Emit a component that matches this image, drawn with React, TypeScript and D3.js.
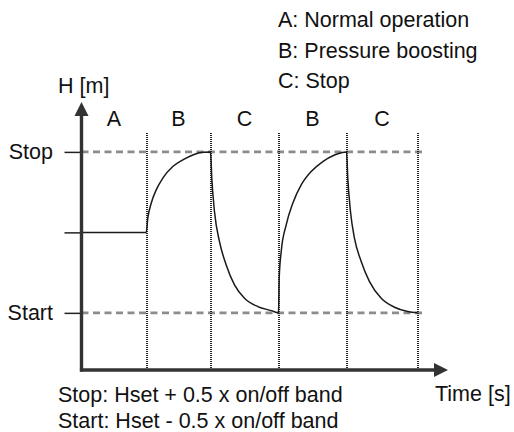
import { useEffect, useRef } from 'react';
import * as d3 from 'd3';

// phase boundaries on the time axis (s) and the phase letters
const phaseEdges = [0, 6.5, 12.9, 19.7, 26.5, 33.6];
const phaseLabels = ["A", "B", "C", "B", "C"];

// head levels (Start = 0, Stop = 1 on/off band)
const levelValues = [1, 0.5, 0];
const levelLabels = ["Stop", "", "Start"];

// head trace
const traceT = [0, 6.47, 6.63, 6.97, 7.47, 8.13, 9.13, 10.13, 11.13, 12.13, 12.9,
  13.03, 13.3, 13.8, 14.47, 15.3, 16.3, 17.63, 18.97, 19.7,
  19.77, 19.97, 20.47, 21.13, 21.97, 22.97, 24.13, 25.3, 26.5,
  26.63, 26.9, 27.3, 27.97, 28.8, 29.97, 31.3, 32.63, 33.6];
const traceH = [0.5, 0.5, 0.588, 0.681, 0.764, 0.837, 0.909, 0.95, 0.981, 0.998, 1.0,
  0.835, 0.628, 0.442, 0.298, 0.174, 0.091, 0.039, 0.014, 0,
  0.217, 0.38, 0.547, 0.681, 0.795, 0.878, 0.94, 0.981, 1.0,
  0.835, 0.628, 0.463, 0.319, 0.194, 0.091, 0.035, 0.008, 0];

const legendLines = ["A: Normal operation", "B: Pressure boosting", "C: Stop"];
const noteLines = ["Stop: Hset + 0.5 x on/off band", "Start: Hset - 0.5 x on/off band"];

export default function App() {
  const svgRef = useRef<SVGSVGElement>(null);

  useEffect(() => {
    if (!svgRef.current) return;
    const svg = d3.select(svgRef.current);
    svg.selectAll("*").remove();

    const font = "'Liberation Sans', Arial, sans-serif";
    const fs = 21.5;
    const axisColor = "#333";

    const x = d3.scaleLinear().domain([0, 36.65]).range([81.5, 448]);
    const y = d3.scaleLinear().domain([-0.355, 1.31]).range([370, 102]);

    // legend at top right
    svg.append("g").selectAll("text").data(legendLines).join("text")
      .attr("x", 278)
      .attr("y", (_d, i) => 26.7 + i * 30.8)
      .attr("font-family", font).attr("font-size", fs).attr("fill", "#111")
      .text(d => d);

    // dashed Stop / Start guides
    svg.append("g").selectAll("line").data([1, 0]).join("line")
      .attr("x1", x(0)).attr("x2", x(34.5))
      .attr("y1", d => y(d)).attr("y2", d => y(d))
      .attr("stroke", "#8c8c8c").attr("stroke-width", 2.6)
      .attr("stroke-dasharray", "7,4.5");

    // dotted phase separators
    svg.append("g").selectAll("line").data(phaseEdges.slice(1)).join("line")
      .attr("x1", d => Math.round(x(d))).attr("x2", d => Math.round(x(d)))
      .attr("y1", Math.round(y(1.12))).attr("y2", y(-0.355))
      .attr("stroke", "#222").attr("stroke-width", 2)
      .attr("stroke-dasharray", "1,1")
      .attr("shape-rendering", "crispEdges");

    // phase letters
    svg.append("g").selectAll("text").data(phaseLabels).join("text")
      .attr("x", (_d, i) => x((phaseEdges[i] + phaseEdges[i + 1]) / 2))
      .attr("y", 126)
      .attr("text-anchor", "middle")
      .attr("font-family", font).attr("font-size", fs).attr("fill", "#111")
      .text(d => d);

    // head trace
    const line = d3.line<number>()
      .x((_d, i) => x(traceT[i]))
      .y(d => y(d))
      .curve(d3.curveMonotoneX);
    svg.append("path")
      .attr("d", line(traceH) || "")
      .attr("fill", "none").attr("stroke", "#1a1a1a").attr("stroke-width", 1.5);

    // left axis ticks with level labels
    const yAxis = d3.axisLeft(y)
      .tickValues(levelValues)
      .tickSize(17)
      .tickPadding(11.5)
      .tickFormat((_d, i) => levelLabels[i]);
    const ga = svg.append("g").attr("transform", `translate(${x(0)},0)`).call(yAxis);
    ga.select(".domain").remove();
    ga.selectAll(".tick line").attr("stroke", "#222").attr("stroke-width", 1.5);
    ga.selectAll(".tick text")
      .attr("font-family", font).attr("font-size", fs).attr("fill", "#111");

    // axes with arrow heads
    svg.append("line")
      .attr("x1", x(0)).attr("x2", x(0)).attr("y1", y(-0.355) + 1.6).attr("y2", y(1.31) + 10)
      .attr("stroke", axisColor).attr("stroke-width", 3.4);
    svg.append("line")
      .attr("x1", x(0) - 1.6).attr("x2", x(36.65) - 10).attr("y1", y(-0.355)).attr("y2", y(-0.355))
      .attr("stroke", axisColor).attr("stroke-width", 3.4);
    svg.append("path")
      .attr("d", `M${x(0)},${y(1.31)} L${x(0) - 7},${y(1.31) + 14} L${x(0) + 7},${y(1.31) + 14} Z`)
      .attr("fill", axisColor);
    svg.append("path")
      .attr("d", `M${x(36.65)},${y(-0.355)} L${x(36.65) - 14},${y(-0.355) - 7} L${x(36.65) - 14},${y(-0.355) + 7} Z`)
      .attr("fill", axisColor);

    // axis titles
    svg.append("text").attr("x", 58).attr("y", 93.3)
      .attr("font-family", font).attr("font-size", fs).attr("fill", "#111")
      .text("H [m]");
    svg.append("text").attr("x", 435).attr("y", 400.7)
      .attr("font-family", font).attr("font-size", fs).attr("fill", "#111")
      .text("Time [s]");

    // notes under the chart
    svg.append("g").selectAll("text").data(noteLines).join("text")
      .attr("x", 58)
      .attr("y", (_d, i) => 401.7 + i * 26.6)
      .attr("font-family", font).attr("font-size", fs).attr("fill", "#111")
      .text(d => d);
  }, []);

  return (
    <svg ref={svgRef} width={514} height={432}
      style={{ position: "absolute", left: 0, top: 0, background: "#fff" }} />
  );
}
